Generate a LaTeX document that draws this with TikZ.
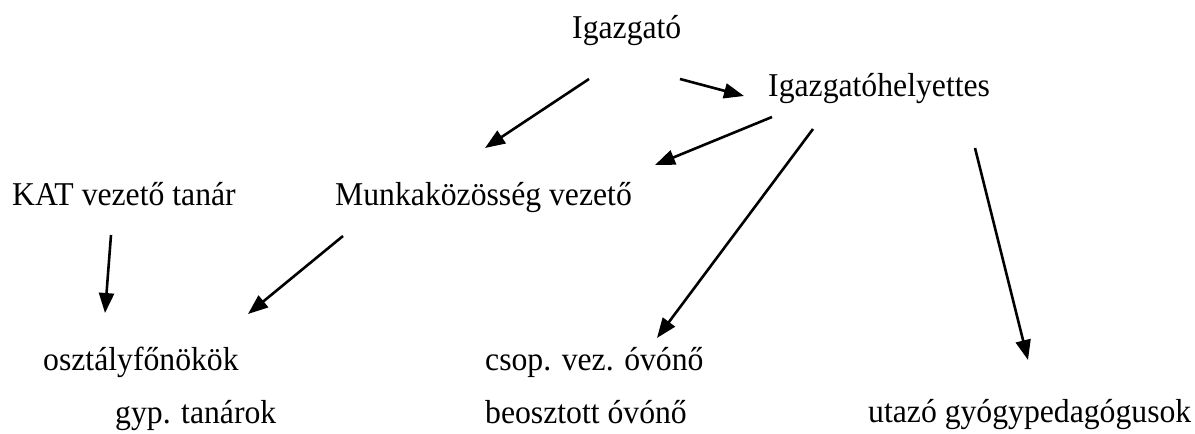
\documentclass[tikz,border=0pt]{standalone}
\usepackage{fontspec}
\setmainfont{Liberation Serif}
\usetikzlibrary{arrows.meta}
\tikzset{
  lbl/.style={anchor=base west, inner sep=0pt, yscale=1.05, font=\fontsize{31.7}{38}\selectfont},
  conn/.style={line width=2.6pt, -{Triangle[length=20pt,width=15pt]}}
}
\begin{document}
\begin{tikzpicture}[x=1pt,y=-1pt]
\useasboundingbox (0,0) rectangle (1195,434);
% labels
\node[lbl] (ig) at (572,38) {Igazgató};
\node[lbl] (igh) at (768,96) {Igazgatóhelyettes};
\node[lbl] (kat) at (12,205) {KAT vezető tanár};
\node[lbl] (mk) at (335,205) {Munkaközösség vezető};
\node[lbl] (of) at (43,370) {osztályfőnökök};
\node[lbl] (gyp) at (115,423) {gyp. tanárok};
\node[lbl] (csop) at (485,370) {csop. vez. óvónő};
\node[lbl] (beo) at (485,423) {beosztott óvónő};
\node[lbl] (uta) at (868,422) {utazó gyógypedagógusok};
% connector end points
\coordinate (a1) at (589,79);  \coordinate (a2) at (485,148);
\coordinate (c1) at (680,79);  \coordinate (c2) at (744,96);
\coordinate (b1) at (772,117); \coordinate (b2) at (655,165);
\coordinate (d1) at (813,129); \coordinate (d2) at (657,338);
\coordinate (e1) at (975,148); \coordinate (e2) at (1028,360);
\coordinate (f1) at (111,235); \coordinate (f2) at (105,313);
\coordinate (g1) at (343,236); \coordinate (g2) at (248,314);
% connectors
\draw[conn] (a1) -- (a2);
\draw[conn] (c1) -- (c2);
\draw[conn] (b1) -- (b2);
\draw[conn] (d1) -- (d2);
\draw[conn] (e1) -- (e2);
\draw[conn] (f1) -- (f2);
\draw[conn] (g1) -- (g2);
\end{tikzpicture}
\end{document}
